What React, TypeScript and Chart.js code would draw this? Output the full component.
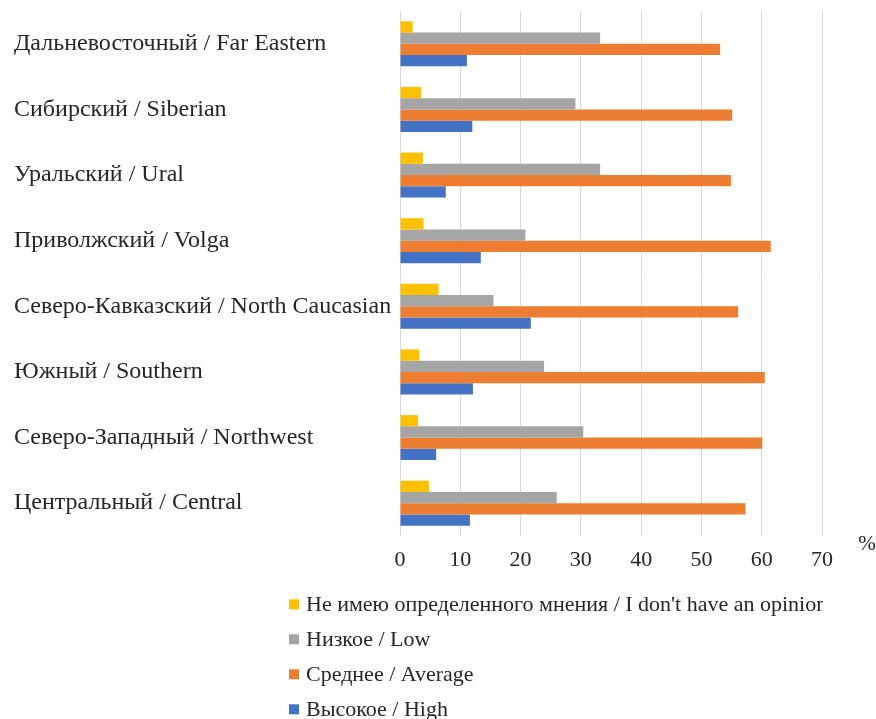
import React, { useEffect, useRef } from "react";
import { Chart, registerables } from "chart.js";

Chart.register(...registerables);

const regions = [
  "Дальневосточный / Far Eastern",
  "Сибирский / Siberian",
  "Уральский / Ural",
  "Приволжский / Volga",
  "Северо-Кавказский / North Caucasian",
  "Южный / Southern",
  "Северо-Западный / Northwest",
  "Центральный / Central",
];

const noOpinion = [2.1, 3.5, 3.8, 3.9, 6.4, 3.2, 3.0, 4.8];
const low = [33.2, 29.1, 33.2, 20.8, 15.5, 23.9, 30.4, 26.0];
const average = [53.1, 55.1, 54.9, 61.5, 56.1, 60.5, 60.1, 57.3];
const high = [11.1, 12.0, 7.6, 13.4, 21.7, 12.1, 6.0, 11.6];

const seriesNames = [
  "Не имею определенного мнения / I don't have an opinion",
  "Низкое / Low",
  "Среднее / Average",
  "Высокое / High",
];
const seriesColors = ["#FFC000", "#A5A5A5", "#ED7D31", "#4472C4"];

const FONT = "'Liberation Serif', 'Times New Roman', serif";
const TEXT = "#262626";

// Vertical legend under the axis plus the "%" unit mark next to the last tick.
const extrasPlugin = {
  id: "extras",
  afterDraw(chart: any) {
    const ctx = chart.ctx;
    const area = chart.chartArea;
    ctx.save();
    ctx.fillStyle = TEXT;
    ctx.font = `21px ${FONT}`;
    ctx.textAlign = "center";
    ctx.textBaseline = "middle";
    ctx.fillText("%", area.right + 45, area.bottom + 8);

    ctx.beginPath();
    ctx.rect(0, 0, 823, chart.height);
    ctx.clip();
    ctx.font = `22px ${FONT}`;
    ctx.textAlign = "left";
    const rowStart = 604.3;
    const rowGap = 35;
    chart.data.datasets.forEach((ds: any, i: number) => {
      const cy = rowStart + i * rowGap;
      ctx.fillStyle = ds.backgroundColor;
      ctx.fillRect(289, cy - 5, 10, 10);
      ctx.fillStyle = TEXT;
      ctx.fillText(ds.label, 306, cy + 1);
    });
    ctx.restore();
  },
};

export default function App() {
  const canvasRef = useRef<HTMLCanvasElement>(null);

  useEffect(() => {
    if (!canvasRef.current) return;
    const values = [noOpinion, low, average, high];
    const chart = new Chart(canvasRef.current, {
      type: "bar",
      data: {
        labels: regions,
        datasets: values.map((v, i) => ({
          label: seriesNames[i],
          data: v,
          backgroundColor: seriesColors[i],
          borderWidth: 0,
          barPercentage: 1,
          categoryPercentage: 0.685,
        })),
      },
      options: {
        indexAxis: "y",
        animation: false,
        responsive: false,
        layout: { padding: { left: 14, right: 54, top: 11, bottom: 0 } },
        plugins: {
          legend: { display: false },
          tooltip: { enabled: false },
        },
        scales: {
          x: {
            min: 0,
            max: 70,
            ticks: {
              stepSize: 10,
              color: TEXT,
              font: { family: FONT, size: 22 },
              padding: 11,
            },
            grid: { color: "#d9d9d9", drawTicks: false },
            border: { display: false },
            afterFit: (scale: any) => {
              scale.height = 183;
            },
          },
          y: {
            ticks: {
              crossAlign: "far",
              color: TEXT,
              font: { family: FONT, size: 24 },
            },
            grid: { display: false, drawTicks: false },
            border: { display: false },
            afterFit: (scale: any) => {
              scale.width = 386;
              scale.paddingTop = 0;
              scale.paddingBottom = 0;
            },
          },
        },
      },
      plugins: [extrasPlugin],
    });
    return () => chart.destroy();
  }, []);

  return (
    <div style={{ position: "absolute", left: 0, top: 0, width: 876, height: 719, background: "#fff" }}>
      <canvas ref={canvasRef} width={876} height={719} style={{ display: "block" }} />
    </div>
  );
}
